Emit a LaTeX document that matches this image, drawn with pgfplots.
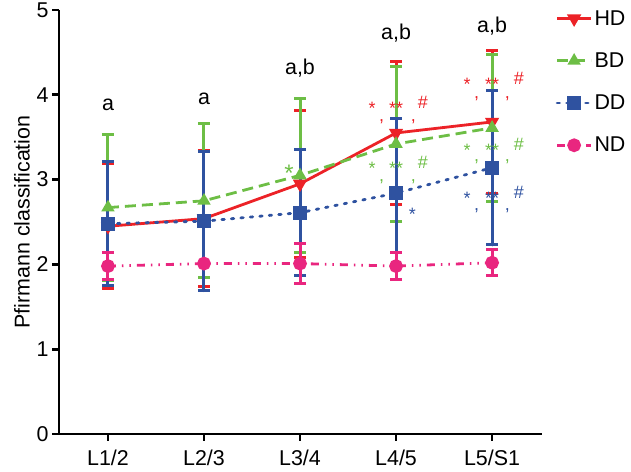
\documentclass[border=0pt]{standalone}
\usepackage{fontspec}
\setmainfont{Liberation Sans}
\usepackage{pgfplots}
\pgfplotsset{compat=1.18}
\definecolor{cHD}{HTML}{EC2227}
\definecolor{cBD}{HTML}{6DBE45}
\definecolor{cDD}{HTML}{2F52A0}
\definecolor{cND}{HTML}{E9267F}
\newcommand\fs{\fontsize{21.5}{25}\selectfont}
\begin{document}
\begin{tikzpicture}
\useasboundingbox (0,0) rectangle (631bp,472bp);
\begin{axis}[
  at={(59bp,38bp)}, anchor=south west,
  scale only axis, width=483bp, height=424bp,
  xmin=-0.51, xmax=4.52, ymin=0, ymax=5,
  axis x line*=bottom, axis y line*=left,
  axis line style={line width=2.8bp, -},
  xtick={0,...,4}, xticklabels={L1/2,L2/3,L3/4,L4/5,L5/S1},
  ytick={0,...,5},
  tick align=outside, major tick length=7bp,
  tick style={line width=2.8bp, black},
  font=\fs,
  ticklabel style={font=\fs},
  xticklabel style={yshift=-5bp},
  /pgf/number format/assume math mode=true,
  ylabel={Pfirmann classification},
  ylabel style={font=\fs},
  clip=false,
  legend style={at={(1.028,1.004)}, anchor=north west, draw=none, fill=none,
    font=\fs, row sep=22bp, inner sep=0pt},
  legend cell align=left,
  legend image code/.code={\draw[mark repeat=2,mark phase=2] plot coordinates {(0bp,0bp) (17bp,0bp) (34bp,0bp)};},
  every axis plot/.append style={line width=2.8bp},
]
\addplot[cHD, solid, mark=triangle*, mark size=5.5bp, mark options={solid, rotate=180},
  error bars/.cd, y dir=both, y explicit,
  error bar style={line width=3bp, solid},
  error mark options={rotate=90, mark size=6bp, line width=3bp}]
  table[x=x, y=y, y error=e] {
x y e
0 2.45 0.74
1 2.54 0.80
2 2.95 0.87
3 3.55 0.84
4 3.68 0.84
};
\addlegendentry{HD}
\addplot[cBD, dash pattern=on 11bp off 6bp, mark=triangle*, mark size=5bp, mark options={solid},
  error bars/.cd, y dir=both, y explicit,
  error bar style={line width=3bp, solid},
  error mark options={rotate=90, mark size=6bp, line width=3bp}]
  table[x=x, y=y, y error=e] {
x y e
0 2.67 0.86
1 2.75 0.91
2 3.05 0.91
3 3.42 0.91
4 3.61 0.87
};
\addlegendentry{BD}
\addplot[cDD, dash pattern=on 2.5bp off 7bp, line cap=round, mark=square*, mark size=5.5bp, mark options={solid},
  error bars/.cd, y dir=both, y explicit,
  error bar style={line width=3bp, solid},
  error mark options={rotate=90, mark size=6bp, line width=3bp}]
  table[x=x, y=y, y error=e] {
x y e
0 2.48 0.73
1 2.51 0.82
2 2.61 0.74
3 2.84 0.88
4 3.14 0.91
};
\addlegendentry{DD}
\addplot[cND, dash pattern=on 8bp off 6bp on 1.5bp off 6bp on 1.5bp off 6bp, mark=*, mark size=5.5bp, mark options={solid},
  error bars/.cd, y dir=both, y explicit,
  error bar style={line width=3bp, solid},
  error mark options={rotate=90, mark size=6bp, line width=3bp}]
  table[x=x, y=y, y error=e] {
x y e
0 1.98 0.16
1 2.01 0.00
2 2.01 0.24
3 1.98 0.16
4 2.02 0.15
};
\addlegendentry{ND}
% letters
\node[font=\fs] at (axis cs:0,3.88) {a};
\node[font=\fs] at (axis cs:1,3.95) {a};
\node[font=\fs] at (axis cs:2,4.31) {a,b};
\node[font=\fs] at (axis cs:3,4.73) {a,b};
\node[font=\fs] at (axis cs:4,4.81) {a,b};
% significance marks
\tikzset{sig/.style={font=\fontsize{18}{20}\selectfont, inner sep=0pt}}
\node[sig, text=cBD, font=\fontsize{24}{26}\selectfont] at (axis cs:1.885,3.08) {*};
% L4/5
\node[sig, text=cHD] at (axis cs:2.75,3.84) {*};
\node[sig, text=cHD] at (axis cs:3.0,3.84) {**};
\node[sig, text=cHD] at (axis cs:3.28,3.91) {\#};
\node[sig, text=cHD] at (axis cs:2.85,3.68) {,};
\node[sig, text=cHD] at (axis cs:3.18,3.68) {,};
\node[sig, text=cBD] at (axis cs:2.75,3.13) {*};
\node[sig, text=cBD] at (axis cs:3.0,3.13) {**};
\node[sig, text=cBD] at (axis cs:3.28,3.20) {\#};
\node[sig, text=cBD] at (axis cs:2.85,2.98) {,};
\node[sig, text=cBD] at (axis cs:3.18,2.98) {,};
\node[sig, text=cDD] at (axis cs:3.17,2.59) {*};
% L5/S1
\node[sig, text=cHD] at (axis cs:3.74,4.12) {*};
\node[sig, text=cHD] at (axis cs:4.0,4.12) {**};
\node[sig, text=cHD] at (axis cs:4.28,4.19) {\#};
\node[sig, text=cHD] at (axis cs:3.84,3.96) {,};
\node[sig, text=cHD] at (axis cs:4.16,3.96) {,};
\node[sig, text=cBD] at (axis cs:3.74,3.35) {*};
\node[sig, text=cBD] at (axis cs:4.0,3.35) {**};
\node[sig, text=cBD] at (axis cs:4.28,3.42) {\#};
\node[sig, text=cBD] at (axis cs:3.84,3.21) {,};
\node[sig, text=cBD] at (axis cs:4.16,3.21) {,};
\node[sig, text=cDD] at (axis cs:3.74,2.78) {*};
\node[sig, text=cDD] at (axis cs:4.0,2.78) {**};
\node[sig, text=cDD] at (axis cs:4.28,2.85) {\#};
\node[sig, text=cDD] at (axis cs:3.84,2.63) {,};
\node[sig, text=cDD] at (axis cs:4.16,2.63) {,};
\end{axis}
\end{tikzpicture}
\end{document}
